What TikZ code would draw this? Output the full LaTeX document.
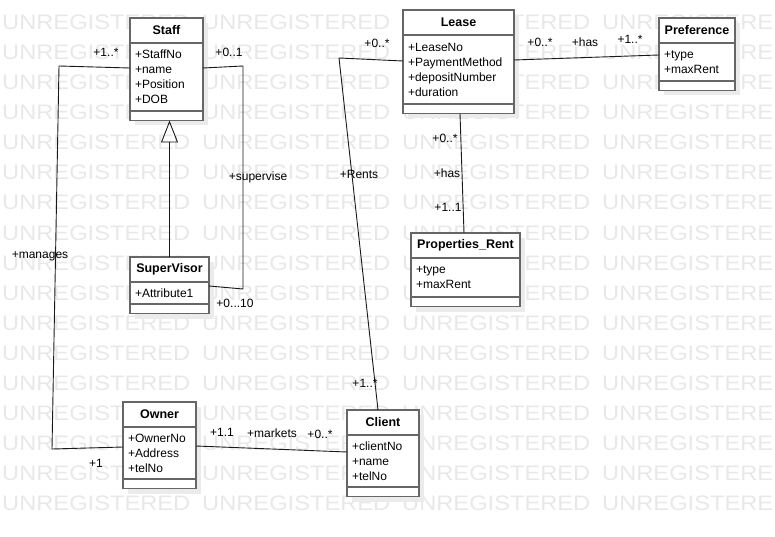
\documentclass[tikz,border=0pt]{standalone}
\usepackage{fontspec}
\setmainfont{Liberation Sans}
\usepackage{tikz}
\usetikzlibrary{arrows.meta, positioning, shadows}
\usepackage{xcolor}
\definecolor{BoxGray}{gray}{0.40}
\definecolor{LineBlack}{gray}{0.10}
\definecolor{MarkGray}{gray}{0.91}
\definecolor{ShadowGray}{gray}{0.92}
\tikzset{%
  class_title/.style={%
    rectangle,%
    draw=BoxGray,%
    line width=1.5pt,%
    fill=white,%
    outer sep=0pt,%
    anchor=north west,%
    minimum width=#1,%
    minimum height=25pt,%
    inner sep=0pt,%
    font={\fontsize{12.5}{15}\selectfont\bfseries},%
    align=center,%
    drop shadow={shadow xshift=5pt, shadow yshift=-5pt, fill=ShadowGray, opacity=1},%
  },
  class_attr/.style 2 args={%
    rectangle,%
    draw=BoxGray,%
    line width=1.5pt,%
    fill=white,%
    outer sep=0pt,%
    text width=#1,%
    minimum height=#2,%
    inner xsep=5pt,%
    inner ysep=0pt,%
    font={\fontsize{12}{15}\selectfont},%
    align=left,%
    drop shadow={shadow xshift=5pt, shadow yshift=-5pt, fill=ShadowGray, opacity=1},%
  },
  class_foot/.style={%
    rectangle,%
    draw=BoxGray,%
    line width=1.5pt,%
    fill=white,%
    outer sep=0pt,%
    inner sep=0pt,%
    minimum width=#1,%
    minimum height=9.5pt,%
    drop shadow={shadow xshift=5pt, shadow yshift=-5pt, fill=ShadowGray, opacity=1},%
  },
  uml_path/.style={%
    color=LineBlack,%
    line width=0.9pt,%
    line join=round,%
  },
  uml_label/.style={%
    font={\fontsize{12}{14}\selectfont},%
    inner sep=0pt,%
  },
  watermark/.style={%
    anchor=base west,%
    inner sep=0pt,%
    xscale=1.127,%
    color=MarkGray,%
    font={\fontsize{21}{21}\selectfont},%
  },
  generalize/.style={-{Triangle[open, length=22pt, width=17pt]}},
}

\begin{document}
\begin{tikzpicture}[x=1pt, y=-1pt]
    \useasboundingbox (0,0) rectangle (775,537);
    % background watermark
    \begin{scope}
      \clip (0,0) rectangle (775,537);
      \foreach \row in {1,...,17} {
        \foreach \col in {0,...,3} {
          \node [watermark] (mark_\row_\col) at (2+200*\col, 30*\row) {UNREGISTERED};
        }
      }
    \end{scope}

    % classes
    \node [class_title=73] (Staff_title) at (130,18) {Staff};
    \node [class_attr={63pt}{68pt}, below = 0pt of Staff_title] (Staff_attr)
      {+StaffNo\\+name\\+Position\\+DOB};
    \node [class_foot=73, below = 0pt of Staff_attr] (Staff_foot) {};

    \node [class_title=79] (SuperVisor_title) at (130,257) {SuperVisor};
    \node [class_attr={69pt}{22pt}, below = 0pt of SuperVisor_title] (SuperVisor_attr)
      {+Attribute1};
    \node [class_foot=79, below = 0pt of SuperVisor_attr] (SuperVisor_foot) {};

    \node [class_title=111] (Lease_title) at (403,10) {Lease};
    \node [class_attr={101pt}{69pt}, below = 0pt of Lease_title] (Lease_attr)
      {+LeaseNo\\+PaymentMethod\\+depositNumber\\+duration};
    \node [class_foot=111, below = 0pt of Lease_attr] (Lease_foot) {};

    \node [class_title=76] (Preference_title) at (659,18) {Preference};
    \node [class_attr={66pt}{38pt}, below = 0pt of Preference_title] (Preference_attr)
      {+type\\+maxRent};
    \node [class_foot=76, below = 0pt of Preference_attr] (Preference_foot) {};

    \node [class_title=109] (Rent_title) at (411,233) {Properties\_Rent};
    \node [class_attr={99pt}{39pt}, below = 0pt of Rent_title] (Rent_attr)
      {+type\\+maxRent};
    \node [class_foot=109, below = 0pt of Rent_attr] (Rent_foot) {};

    \node [class_title=73] (Owner_title) at (123,402) {Owner};
    \node [class_attr={63pt}{52pt}, below = 0pt of Owner_title] (Owner_attr)
      {+OwnerNo\\+Address\\+telNo};
    \node [class_foot=73, below = 0pt of Owner_attr] (Owner_foot) {};

    \node [class_title=72] (Client_title) at (347,410) {Client};
    \node [class_attr={62pt}{52pt}, below = 0pt of Client_title] (Client_attr)
      {+clientNo\\+name\\+telNo};
    \node [class_foot=72, below = 0pt of Client_attr] (Client_foot) {};

    % bends
    \coordinate (manages_top) at (59,66);
    \coordinate (manages_bottom) at (52,449);
    \coordinate (supervise_top) at (243,66);
    \coordinate (supervise_bottom) at (243,289);
    \coordinate (rents_corner) at (339,58);

    % associations
    \draw [uml_path]
      ([yshift=9pt]Staff_attr.west)
      --
      (manages_top)
      --
      (manages_bottom)
      --
      ([yshift=6pt]Owner_attr.west);
    \draw [uml_path]
      ([yshift=9pt]Staff_attr.east)
      --
      (supervise_top)
      --
      (supervise_bottom)
      --
      ([yshift=7pt]SuperVisor_attr.east);
    \draw [uml_path, generalize]
      (SuperVisor_title.north)
      --
      (SuperVisor_title.north |- Staff_foot.south);
    \draw [uml_path]
      ([yshift=8.5pt]Lease_attr.west)
      --
      (rents_corner)
      --
      ([xshift=-5pt]Client_title.north);
    \draw [uml_path]
      ([yshift=9.5pt]Lease_attr.east)
      --
      ([yshift=7pt]Preference_attr.west);
    \draw [uml_path]
      ([xshift=1.5pt]Lease_foot.south)
      --
      ([xshift=-1.5pt]Rent_title.north);
    \draw [uml_path]
      ([yshift=7pt]Owner_attr.east)
      --
      ([yshift=9pt]Client_attr.west);

    % role names and multiplicities
    \node [uml_label] (manages_many) at (106,52) {+1..*};
    \node [uml_label] (manages_name) at (40,256) {+manages};
    \node [uml_label] (manages_one) at (96,463) {+1};
    \node [uml_label] (supervise_one) at (229,52) {+0..1};
    \node [uml_label] (supervise_name) at (258,177) {+supervise};
    \node [uml_label] (supervise_many) at (235,303) {+0...10};
    \node [uml_label] (rents_lease) at (377,43) {+0..*};
    \node [uml_label] (rents_name) at (359,174) {+Rents};
    \node [uml_label] (rents_client) at (365,383) {+1..*};
    \node [uml_label] (pref_lease) at (540,42) {+0..*};
    \node [uml_label] (pref_name) at (585,42) {+has};
    \node [uml_label] (pref_many) at (630,39) {+1..*};
    \node [uml_label] (rent_lease) at (445,138) {+0..*};
    \node [uml_label] (rent_name) at (447,173) {+has};
    \node [uml_label] (rent_one) at (448,207) {+1..1};
    \node [uml_label] (markets_owner) at (222,432) {+1.1};
    \node [uml_label] (markets_name) at (272,433) {+markets};
    \node [uml_label] (markets_client) at (320,434) {+0..*};
  \end{tikzpicture}
\end{document}
